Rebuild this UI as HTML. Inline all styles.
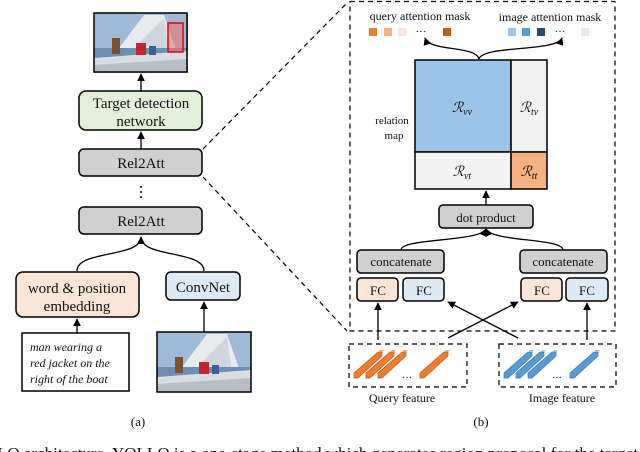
<!DOCTYPE html>
<html><head><meta charset="utf-8"><style>
html,body{margin:0;padding:0;background:#fff;width:640px;height:452px;overflow:hidden}
svg{display:block}
text{font-family:"Liberation Serif",serif;fill:#111}
</style></head><body>
<svg width="640" height="452" viewBox="0 0 640 452" xmlns="http://www.w3.org/2000/svg">
<defs>
<marker id="ah" viewBox="0 0 10 10" refX="9" refY="5" markerWidth="6" markerHeight="6" orient="auto"><path d="M0,0L10,5L0,10z" fill="#000"/></marker>
<g id="photo">
<rect x="0" y="0" width="94" height="60" fill="#9fbad6"/>
<polygon points="10,55 50,2 70,2 85,45" fill="#e8ebee"/>
<polygon points="45,30 70,5 75,40" fill="#cfd5dc"/>
<rect x="0" y="35" width="94" height="12" fill="#6d8fb3"/>
<polygon points="0,45 94,38 94,60 0,60" fill="#d9dde2"/>
<polygon points="0,52 94,46 94,60 0,60" fill="#b8bec6"/>
<rect x="18" y="25" width="8" height="16" fill="#7a5030"/>
<rect x="42" y="30" width="10" height="12" fill="#c0262a"/>
<rect x="55" y="33" width="7" height="9" fill="#3a5f9a"/>
</g>
<g id="barO">
<polygon points="0,23 24,2 28,2 28,6 4,28 0,28" fill="#ed7d31" stroke="#c55a11" stroke-width="0.7"/>
<polygon points="24,2 26,0 30,0 28,2" fill="#f4a66a"/>
</g>
<g id="barB">
<polygon points="0,23 24,2 28,2 28,6 4,28 0,28" fill="#5b9bd5" stroke="#2e75b6" stroke-width="0.7"/>
<polygon points="24,2 26,0 30,0 28,2" fill="#9dc3e6"/>
</g>
</defs>

<use href="#photo" transform="translate(94,13)"/>
<rect x="94" y="13" width="93" height="59" fill="none" stroke="#000" stroke-width="1.5"/>
<rect x="168" y="23" width="15" height="29" fill="rgba(230,120,120,0.6)" stroke="#e00" stroke-width="1.5"/>

<g stroke="#000" stroke-width="1.3" fill="none">
<line x1="141" y1="91" x2="141" y2="74" marker-end="url(#ah)"/>
<line x1="141" y1="149" x2="141" y2="132" marker-end="url(#ah)"/>
<path d="M77,271 C77,250 141,258 141,237" marker-end="url(#ah)"/>
<path d="M204,271 C204,250 141,258 141,237"/>
<line x1="77" y1="333" x2="77" y2="319" marker-end="url(#ah)"/>
<line x1="204" y1="332" x2="204" y2="302" marker-end="url(#ah)"/>
</g>
<rect x="79" y="91" width="123" height="39" rx="7" fill="#e2f0d9" stroke="#000" stroke-width="1.5"/>
<text x="141" y="108" font-size="15" text-anchor="middle">Target detection</text>
<text x="141" y="126" font-size="15" text-anchor="middle">network</text>
<rect x="79" y="149" width="123" height="27" rx="5" fill="#d0d0d0" stroke="#000" stroke-width="1.5"/>
<text x="141" y="168" font-size="15" text-anchor="middle">Rel2Att</text>
<g fill="#000"><circle cx="141" cy="187" r="1"/><circle cx="141" cy="192" r="1"/><circle cx="141" cy="197" r="1"/></g>
<rect x="79" y="207" width="123" height="27" rx="5" fill="#d0d0d0" stroke="#000" stroke-width="1.5"/>
<text x="141" y="226" font-size="15" text-anchor="middle">Rel2Att</text>
<rect x="16" y="272" width="123" height="45" rx="7" fill="#fbe5d6" stroke="#000" stroke-width="1.5"/>
<text x="77" y="293" font-size="15" text-anchor="middle">word &amp; position</text>
<text x="77" y="311" font-size="15" text-anchor="middle">embedding</text>
<rect x="166" y="272" width="74" height="28" rx="5" fill="#deebf7" stroke="#000" stroke-width="1.5"/>
<text x="203" y="292" font-size="15" text-anchor="middle">ConvNet</text>
<rect x="22" y="333" width="107" height="58" fill="#fff" stroke="#000" stroke-width="1.5"/>
<g font-size="12" font-style="italic"><text x="30" y="351">man wearing a</text><text x="30" y="367">red jacket on the</text><text x="30" y="383">right of the boat</text></g>
<use href="#photo" transform="translate(157,332)"/>
<rect x="157" y="332" width="94" height="60" fill="none" stroke="#000" stroke-width="1.5"/>
<text x="138" y="426" font-size="13" text-anchor="middle">(a)</text>

<g stroke="#000" stroke-width="1.2" stroke-dasharray="5,4" fill="none">
<line x1="203" y1="149" x2="346" y2="4"/>
<line x1="203" y1="177" x2="347" y2="331"/>
<rect x="350" y="1.5" width="265" height="329.5"/>
<rect x="349" y="344" width="118" height="43"/>
<rect x="499" y="344" width="117" height="43"/>
</g>

<text x="420" y="20" font-size="12" text-anchor="middle">query attention mask</text>
<text x="550" y="21" font-size="12" text-anchor="middle">image attention mask</text>
<rect x="369" y="28" width="8" height="8" fill="#ed7d31"/>
<rect x="384" y="28" width="8" height="8" fill="#f4b183"/>
<rect x="398" y="28" width="8" height="8" fill="#fbe5d6"/>
<text x="421" y="35" font-size="11" text-anchor="middle">···</text>
<rect x="443" y="28" width="8" height="8" fill="#c55a11"/>
<rect x="508" y="28" width="8" height="8" fill="#9dc3e6"/>
<rect x="522" y="28" width="8" height="8" fill="#5b9bd5"/>
<rect x="537" y="28" width="8" height="8" fill="#1f4e79"/>
<text x="560" y="35" font-size="11" text-anchor="middle">···</text>
<rect x="581" y="28" width="8" height="8" fill="#deebf7"/>

<g stroke="#000" stroke-width="1.3" fill="none">
<path d="M479,59 C475,45 430,52 425,38" marker-end="url(#ah)"/>
<path d="M479,59 C483,45 557,52 562,38" marker-end="url(#ah)"/>
<line x1="486" y1="205" x2="486" y2="191" marker-end="url(#ah)"/>
<path d="M401,250 C401,238 480,242 486,229" marker-end="url(#ah)"/>
<path d="M563,250 C563,238 492,242 486,229" marker-end="url(#ah)"/>
<line x1="378" y1="340" x2="378" y2="303" marker-end="url(#ah)"/>
<line x1="587" y1="340" x2="587" y2="303" marker-end="url(#ah)"/>
<line x1="448" y1="338" x2="518" y2="302" marker-end="url(#ah)"/>
<line x1="518" y1="338" x2="448" y2="302" marker-end="url(#ah)"/>
</g>

<rect x="415" y="60" width="96" height="92" fill="#9dc3e6" stroke="#000" stroke-width="1.5"/>
<rect x="511" y="60" width="36" height="92" fill="#f2f2f2" stroke="#000" stroke-width="1.5"/>
<rect x="415" y="152" width="96" height="37" fill="#f2f2f2" stroke="#000" stroke-width="1.5"/>
<rect x="511" y="152" width="36" height="37" fill="#f4b183" stroke="#000" stroke-width="1.5"/>
<g font-size="14" font-style="italic">
<text x="462" y="112" text-anchor="middle">ℛ<tspan font-size="10" dy="3">vv</tspan></text>
<text x="529" y="112" text-anchor="middle">ℛ<tspan font-size="10" dy="3">tv</tspan></text>
<text x="462" y="176" text-anchor="middle">ℛ<tspan font-size="10" dy="3">vt</tspan></text>
<text x="529" y="176" text-anchor="middle">ℛ<tspan font-size="10" dy="3">tt</tspan></text>
</g>
<text x="392" y="124" font-size="11" text-anchor="middle">relation</text>
<text x="394" y="139" font-size="11" text-anchor="middle">map</text>

<rect x="439" y="205" width="94" height="23" rx="4" fill="#d0d0d0" stroke="#000" stroke-width="1.5"/>
<text x="486" y="222" font-size="13" text-anchor="middle">dot product</text>
<rect x="357" y="250" width="87" height="23" rx="4" fill="#d0d0d0" stroke="#000" stroke-width="1.5"/>
<text x="401" y="266" font-size="13" text-anchor="middle">concatenate</text>
<rect x="520" y="250" width="87" height="23" rx="4" fill="#d0d0d0" stroke="#000" stroke-width="1.5"/>
<text x="563" y="266" font-size="13" text-anchor="middle">concatenate</text>
<rect x="357" y="278" width="41" height="23" rx="4" fill="#fbe5d6" stroke="#000" stroke-width="1.5"/>
<rect x="403" y="278" width="41" height="23" rx="4" fill="#deebf7" stroke="#000" stroke-width="1.5"/>
<rect x="521" y="278" width="41" height="23" rx="4" fill="#fbe5d6" stroke="#000" stroke-width="1.5"/>
<rect x="566" y="278" width="42" height="23" rx="4" fill="#deebf7" stroke="#000" stroke-width="1.5"/>
<g font-size="13" text-anchor="middle"><text x="378" y="295">FC</text><text x="424" y="295">FC</text><text x="542" y="295">FC</text><text x="587" y="295">FC</text></g>

<use href="#barO" transform="translate(354,350)"/>
<use href="#barO" transform="translate(366,350)"/>
<use href="#barO" transform="translate(378,350)"/>
<use href="#barO" transform="translate(420,350)"/>
<text x="407" y="381" font-size="10" text-anchor="middle">···</text>
<use href="#barB" transform="translate(504,350)"/>
<use href="#barB" transform="translate(516,350)"/>
<use href="#barB" transform="translate(528,350)"/>
<use href="#barB" transform="translate(570,350)"/>
<text x="557" y="381" font-size="10" text-anchor="middle">···</text>
<text x="402" y="402" font-size="12" text-anchor="middle">Query feature</text>
<text x="562" y="402" font-size="12" text-anchor="middle">Image feature</text>
<text x="481" y="426" font-size="13" text-anchor="middle">(b)</text>

<text x="-3" y="459" font-size="17">LO architecture. YOLLO is a one-stage method which generates region proposal for the target o</text>
</svg>
</body></html>
